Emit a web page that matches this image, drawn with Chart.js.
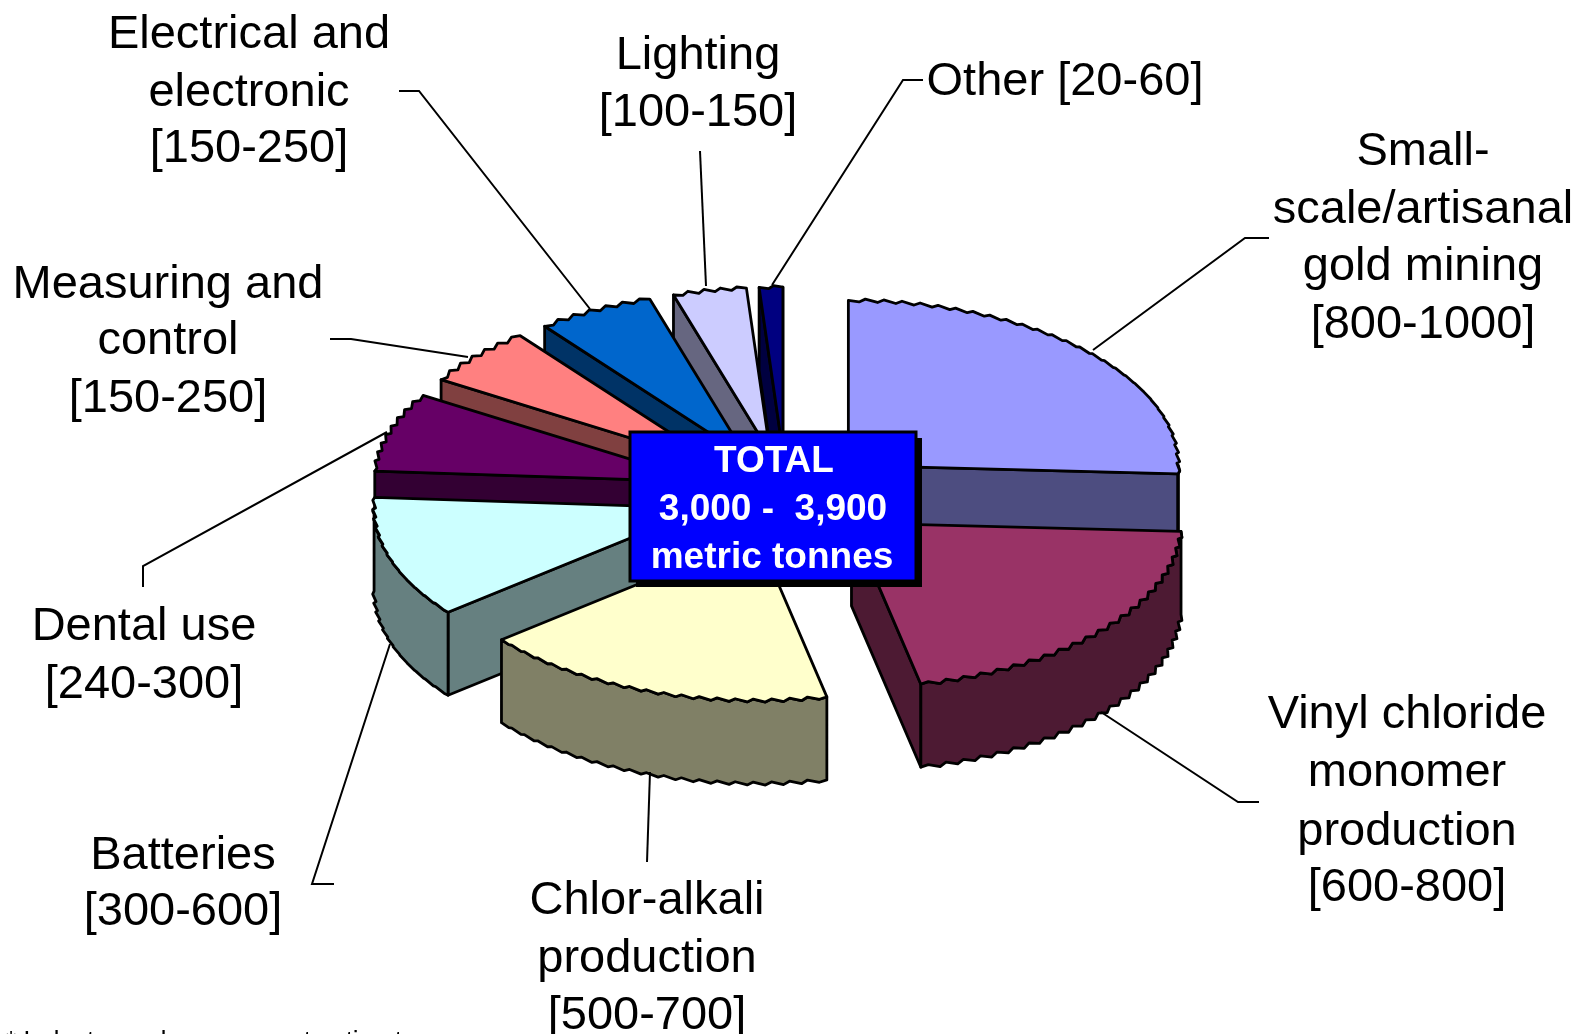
<!DOCTYPE html>
<html>
<head>
<meta charset="utf-8">
<title>Mercury consumption by sector</title>
<style>
    html, body { margin: 0; padding: 0; background: #fff; }
    #wrap { position: relative; width: 1577px; height: 1034px; overflow: hidden; }
</style>
<script src="https://cdn.jsdelivr.net/npm/chart.js@4/dist/chart.umd.min.js"></script>
</head>
<body>
<div id="wrap"><canvas id="pieChart" width="1577" height="1034"></canvas></div>
<script>
// ========================================
// DATA
// ========================================

const categories = ['Small-scale/artisanal gold mining', 'Vinyl chloride monomer production', 'Chlor-alkali production',
    'Batteries', 'Dental use', 'Measuring and control', 'Electrical and electronic', 'Lighting', 'Other'];
const tonnes = [900, 725, 610, 415, 270, 200, 200, 125, 40];
const topColors = ['#9999FF', '#993366', '#FFFFCC', '#CCFFFF', '#660066', '#FF8080', '#0066CC', '#CCCCFF', '#000080'];
const wallColors = ['#4D4D80', '#4D1A33', '#808066', '#668080', '#330033', '#804040', '#003366', '#666680', '#000040'];

const totalLines = ['TOTAL', '3,000 -  3,900', 'metric tonnes'];
const footnote = '* Industry and government estimates';

// ========================================
// LAYOUT (all in reference pixels)
// ========================================

const TILT = 0.5;        // squash of the pie disc
const DEPTH = 83;        // height of the extruded side
const EXPLODE = 86;      // how far each slice is pulled out
const WOBBLE = 1.5;      // the reference outlines are scalloped
const LABEL_FONT = '47px "Liberation Sans", Arial, sans-serif';

// text, centre x, centre y of each line
const labelBlocks = [
    { x: 249, ys: [35, 93, 149], lines: ['Electrical and', 'electronic', '[150-250]'] },
    { x: 698, ys: [56, 113], lines: ['Lighting', '[100-150]'] },
    { x: 1065, ys: [82], lines: ['Other [20-60]'] },
    { x: 1423, ys: [152, 210, 267, 325], lines: ['Small-', 'scale/artisanal', 'gold mining', '[800-1000]'] },
    { x: 168, ys: [285, 341, 399], lines: ['Measuring and', 'control', '[150-250]'] },
    { x: 144, ys: [627, 685], lines: ['Dental use', '[240-300]'] },
    { x: 183, ys: [856, 912], lines: ['Batteries', '[300-600]'] },
    { x: 647, ys: [901, 959, 1016], lines: ['Chlor-alkali', 'production', '[500-700]'] },
    { x: 1407, ys: [715, 773, 832, 888], lines: ['Vinyl chloride', 'monomer', 'production', '[600-800]'] }
];

const leaders = [
    [[1269, 238], [1245, 238], [1093, 350]],
    [[1259, 802], [1238, 802], [1101, 712]],
    [[647, 862], [650, 772]],
    [[334, 884], [312, 884], [390, 644]],
    [[143, 587], [143, 566], [387, 432]],
    [[330, 339], [351, 339], [468, 357]],
    [[399, 91], [419, 91], [590, 309]],
    [[700, 151], [706, 286]],
    [[923, 80], [903, 80], [772, 285]]
];

// ========================================
// 3D PIE PLUGIN
// ========================================

function slicePoint(arc, centre, angle) {
    return { x: centre.x + Math.cos(angle) * arc.outerRadius, y: centre.y + Math.sin(angle) * arc.outerRadius * TILT };
}

// scalloped points along the rim between two angles
function rimPoints(arc, centre, from, to) {
    const pts = [];
    const steps = Math.max(2, Math.ceil((to - from) / 0.028));
    for (let i = 0; i <= steps; i++) {
        const p = slicePoint(arc, centre, from + (to - from) * i / steps);
        if (i > 0 && i < steps) {
            const w = i % 2 ? WOBBLE : -WOBBLE;
            p.x += w;
            p.y += w;
        }
        pts.push(p);
    }
    return pts;
}

function polygon(ctx, pts) {
    ctx.beginPath();
    pts.forEach((p, i) => i ? ctx.lineTo(p.x, p.y) : ctx.moveTo(p.x, p.y));
    ctx.closePath();
}

function paint(ctx, pts, color) {
    polygon(ctx, pts);
    ctx.fillStyle = color;
    ctx.fill();
    ctx.stroke();
}

const down = p => ({ x: p.x, y: p.y + DEPTH });

function drawSlice(ctx, arc, index) {
    const mid = (arc.startAngle + arc.endAngle) / 2;
    const centre = {
        x: arc.x + Math.cos(mid) * EXPLODE,
        y: arc.y + Math.sin(mid) * EXPLODE * TILT
    };
    const wall = wallColors[index];

    // cut faces, only the ones turned to the viewer
    if (Math.cos(arc.startAngle) < 0) {
        const c = slicePoint(arc, centre, arc.startAngle);
        paint(ctx, [centre, c, down(c), down(centre)], wall);
    }
    if (Math.cos(arc.endAngle) > 0) {
        const c = slicePoint(arc, centre, arc.endAngle);
        paint(ctx, [centre, c, down(c), down(centre)], wall);
    }

    // curved side
    const from = Math.max(arc.startAngle, 0);
    const to = Math.min(arc.endAngle, Math.PI);
    if (to > from) {
        const rim = rimPoints(arc, centre, from, to);
        paint(ctx, rim.concat(rim.map(down).reverse()), wall);
    }

    // top face: the library arc, squashed, clipped to the scalloped outline
    const top = [centre].concat(rimPoints(arc, centre, arc.startAngle, arc.endAngle));
    ctx.save();
    polygon(ctx, top);
    ctx.clip();
    ctx.translate(centre.x, centre.y);
    ctx.scale(1.02, TILT * 1.02);
    ctx.translate(-arc.x, -arc.y);
    arc.draw(ctx);
    ctx.restore();
    polygon(ctx, top);
    ctx.stroke();
}

const pie3d = {
    id: 'pie3d',
    beforeDatasetsDraw(chart) {
        const ctx = chart.ctx;
        const arcs = chart.getDatasetMeta(0).data;
        ctx.save();
        ctx.strokeStyle = '#000';
        ctx.lineWidth = 2.8;
        ctx.lineJoin = 'round';
        arcs.map((arc, i) => ({ arc, i }))
            .sort((a, b) => {
                const ya = Math.sin((a.arc.startAngle + a.arc.endAngle) / 2);
                const yb = Math.sin((b.arc.startAngle + b.arc.endAngle) / 2);
                return ya - yb;
            })
            .forEach(item => drawSlice(ctx, item.arc, item.i));
        ctx.restore();
        return false;
    },
    afterDraw(chart) {
        const ctx = chart.ctx;
        ctx.save();

        // leader lines
        ctx.strokeStyle = '#000';
        ctx.lineWidth = 2;
        leaders.forEach(line => {
            ctx.beginPath();
            line.forEach((p, i) => i ? ctx.lineTo(p[0], p[1]) : ctx.moveTo(p[0], p[1]));
            ctx.stroke();
        });

        // category labels
        ctx.fillStyle = '#000';
        ctx.font = LABEL_FONT;
        ctx.textAlign = 'center';
        ctx.textBaseline = 'middle';
        labelBlocks.forEach(block => {
            block.lines.forEach((text, i) => ctx.fillText(text, block.x, block.ys[i]));
        });

        // total box
        ctx.fillStyle = '#000';
        ctx.fillRect(636, 438, 286, 149);
        ctx.fillStyle = '#0000FF';
        ctx.fillRect(630, 432, 286, 149);
        ctx.lineWidth = 3;
        ctx.strokeRect(630, 432, 286, 149);
        ctx.fillStyle = '#fff';
        ctx.font = 'bold 37px "Liberation Sans", Arial, sans-serif';
        ctx.fillText(totalLines[0], 774, 462);
        ctx.fillText(totalLines[1], 773, 510);
        ctx.fillText(totalLines[2], 772, 558);

        // footnote, cut by the page edge as in the reference
        ctx.fillStyle = '#000';
        ctx.font = '26px "Liberation Sans", Arial, sans-serif';
        ctx.textAlign = 'left';
        ctx.textBaseline = 'alphabetic';
        ctx.fillText(footnote, 6, 1049);
        ctx.restore();
    }
};

// ========================================
// CHART
// ========================================

new Chart(document.getElementById('pieChart'), {
    type: 'pie',
    data: {
        labels: categories,
        datasets: [{
            data: tonnes,
            backgroundColor: topColors,
            borderWidth: 0
        }]
    },
    options: {
        responsive: false,
        animation: false,
        layout: { padding: { left: 456, right: 461, top: 164, bottom: 208 } },
        plugins: {
            legend: { display: false },
            tooltip: { enabled: false }
        }
    },
    plugins: [pie3d]
});
</script>
</body>
</html>
